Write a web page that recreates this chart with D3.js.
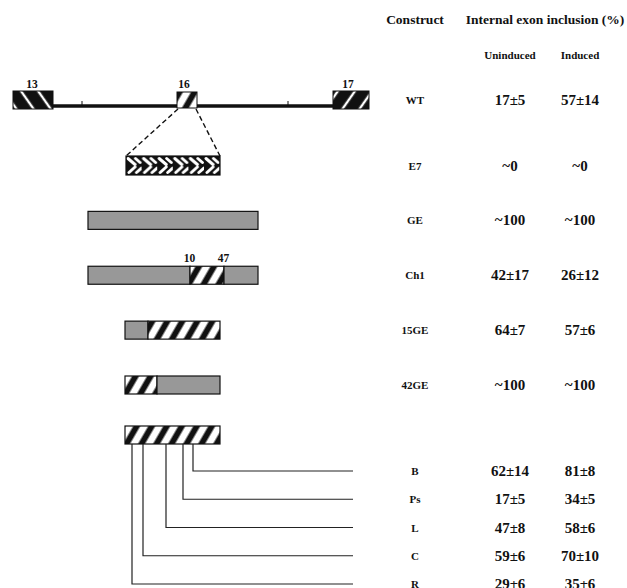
<!DOCTYPE html>
<html>
<head>
<meta charset="utf-8">
<script src="https://cdn.jsdelivr.net/npm/d3@7"></script>
<style>
  body { margin: 0; background: #fff; }
  svg text { font-family: "Liberation Serif", "Times New Roman", serif; font-weight: bold; fill: #111; }
</style>
</head>
<body>
<svg id="chart" width="627" height="588"></svg>
<script>
// ---- data ----
const constructs = ["WT", "E7", "GE", "Ch1", "15GE", "42GE"];
const uninduced = ["17±5", "~0", "~100", "42±17", "64±7", "~100"];
const induced = ["57±14", "~0", "~100", "26±12", "57±6", "~100"];

const deletions = ["B", "Ps", "L", "C", "R"];
const delUninduced = ["62±14", "17±5", "47±8", "59±6", "29±6"];
const delInduced = ["81±8", "34±5", "58±6", "70±10", "35±6"];
const delBranch = [180, 170, 153, 130, 119];   // branch point along the exon (diagram units)

const exonNames = ["13", "16", "17"];
const exonStart = [0, 164, 320];
const exonEnd = [40, 184, 356];
const exonFill = ["blackBack", "stripes", "blackFwd"];
const intronTicks = [69, 275];

// minigene segments: construct, start, end, fill
const segments = [
  ["E7", 113, 207, "weave"],
  ["GE", 75, 245, "grey"],
  ["Ch1", 75, 177, "grey"], ["Ch1", 177, 211, "stripes"], ["Ch1", 211, 245, "grey"],
  ["15GE", 112, 135, "grey"], ["15GE", 135, 207, "stripes"],
  ["42GE", 112, 144, "stripes"], ["42GE", 144, 207, "grey"],
  ["full", 112, 207, "stripes"]
];
const ch1Labels = ["10", "47"];
const ch1LabelPos = [177, 211];

const svg = d3.select("#chart");

const x = d3.scaleLinear().domain([0, 356]).range([13, 369]);
const rowY = d3.scalePoint().domain(["E7", "GE", "Ch1", "15GE", "42GE"]).range([165.5, 385]);
const delY = d3.scalePoint().domain(deletions).range([471, 584]);
const wtY = 100, geneY = 106, fullY = 435;
const yOf = c => c === "WT" ? wtY : c === "full" ? fullY : rowY(c);

// ---- patterns ----
const defs = svg.append("defs");

function stripePattern(id, bg, fg, angle, period, w) {
  const p = defs.append("pattern")
      .attr("id", id)
      .attr("patternUnits", "userSpaceOnUse")
      .attr("width", period).attr("height", period)
      .attr("patternTransform", `rotate(${angle})`);
  p.append("rect").attr("width", period).attr("height", period).attr("fill", bg);
  p.append("rect").attr("x", (period - w) / 2).attr("width", w).attr("height", period).attr("fill", fg);
}
stripePattern("stripes", "#fff", "#111", 30, 13, 6);
stripePattern("blackBack", "#111", "#fff", -35, 14, 2.4);
stripePattern("blackFwd", "#111", "#fff", 35, 14, 2.4);

// woven fill of the E7 exon
const weave = defs.append("pattern")
    .attr("id", "weave")
    .attr("patternUnits", "userSpaceOnUse")
    .attr("width", 15.6).attr("height", 19)
    .attr("x", x(113)).attr("y", 156);
weave.append("rect").attr("width", 15.6).attr("height", 19).attr("fill", "#111");
weave.append("path")
    .attr("d", "M2,2.5 L9,8.5 M9.5,2.5 L14,6.5 M3,16.5 L9,11 M10.5,16.5 L15.5,12")
    .attr("stroke", "#fff").attr("stroke-width", 3).attr("stroke-linecap", "round");

const fillOf = f => f === "grey" ? "#989898" : `url(#${f})`;

// ---- WT gene ----
svg.append("line")
    .attr("x1", x(exonStart[0])).attr("x2", x(exonEnd[2]))
    .attr("y1", geneY).attr("y2", geneY)
    .attr("stroke", "#111").attr("stroke-width", 3.5);

svg.selectAll(".tick")
  .data(intronTicks)
  .enter().append("line")
    .attr("x1", d => x(d)).attr("x2", d => x(d))
    .attr("y1", geneY - 5).attr("y2", geneY)
    .attr("stroke", "#111").attr("stroke-width", 1);

svg.selectAll(".exon")
  .data(exonNames)
  .enter().append("rect")
    .attr("x", (d, i) => x(exonStart[i]))
    .attr("width", (d, i) => x(exonEnd[i]) - x(exonStart[i]))
    .attr("y", (d, i) => i === 1 ? 92 : 91)
    .attr("height", (d, i) => i === 1 ? 16 : 18)
    .attr("fill", (d, i) => fillOf(exonFill[i]))
    .attr("stroke", "#111").attr("stroke-width", 1);

svg.selectAll(".exonLabel")
  .data(exonNames)
  .enter().append("text")
    .attr("x", (d, i) => (x(exonStart[i]) + x(exonEnd[i])) / 2 + (i === 0 ? -1 : -3))
    .attr("y", 88)
    .attr("text-anchor", "middle")
    .attr("font-size", "11.5px")
    .text(d => d);

// dashed zoom lines from exon 16 to E7
[[exonStart[1], 113], [exonEnd[1], 207]].forEach(([a, b]) => {
  svg.append("line")
      .attr("x1", x(a) + (a === exonStart[1] ? 1 : -1)).attr("y1", 109)
      .attr("x2", x(b)).attr("y2", 156)
      .attr("stroke", "#111").attr("stroke-width", 1.4)
      .attr("stroke-dasharray", "5,3");
});

// ---- minigene constructs ----
svg.selectAll(".seg")
  .data(segments)
  .enter().append("rect")
    .attr("x", d => x(d[1]))
    .attr("width", d => x(d[2]) - x(d[1]))
    .attr("y", d => yOf(d[0]) - (d[0] === "E7" ? 9.5 : 9))
    .attr("height", d => d[0] === "E7" ? 19 : 18)
    .attr("fill", d => fillOf(d[3]))
    .attr("stroke", "#111").attr("stroke-width", 1.2);

svg.selectAll(".chLabel")
  .data(ch1Labels)
  .enter().append("text")
    .attr("x", (d, i) => x(ch1LabelPos[i]) - 0.5)
    .attr("y", rowY("Ch1") - 13)
    .attr("text-anchor", "middle")
    .attr("font-size", "11.5px")
    .text(d => d);

// ---- deletion branches ----
svg.selectAll(".branch")
  .data(deletions)
  .enter().append("path")
    .attr("d", (d, i) => `M${x(delBranch[i])},${fullY + 9} V${delY(d)} H${x(340)}`)
    .attr("fill", "none")
    .attr("stroke", "#222").attr("stroke-width", 1.2);

// ---- table ----
const colConstruct = 415, colUn = 510, colIn = 580;

svg.append("text").attr("x", colConstruct).attr("y", 24)
    .attr("text-anchor", "middle").attr("font-size", "13.5px").text("Construct");
svg.append("text").attr("x", 545).attr("y", 24)
    .attr("text-anchor", "middle").attr("font-size", "13.5px").text("Internal exon inclusion (%)");
svg.append("text").attr("x", colUn).attr("y", 59)
    .attr("text-anchor", "middle").attr("font-size", "11px").text("Uninduced");
svg.append("text").attr("x", colIn).attr("y", 59)
    .attr("text-anchor", "middle").attr("font-size", "11px").text("Induced");

function tableRows(names, un, ind, yFn) {
  const g = svg.append("g");
  g.selectAll(".name").data(names).enter().append("text")
      .attr("x", colConstruct).attr("y", d => yFn(d) + 4)
      .attr("text-anchor", "middle").attr("font-size", "11px").text(d => d);
  g.selectAll(".un").data(un).enter().append("text")
      .attr("x", colUn).attr("y", (d, i) => yFn(names[i]) + 5)
      .attr("text-anchor", "middle").attr("font-size", "15px").text(d => d);
  g.selectAll(".in").data(ind).enter().append("text")
      .attr("x", colIn).attr("y", (d, i) => yFn(names[i]) + 5)
      .attr("text-anchor", "middle").attr("font-size", "15px").text(d => d);
}
tableRows(constructs, uninduced, induced, yOf);
tableRows(deletions, delUninduced, delInduced, delY);
</script>
</body>
</html>
